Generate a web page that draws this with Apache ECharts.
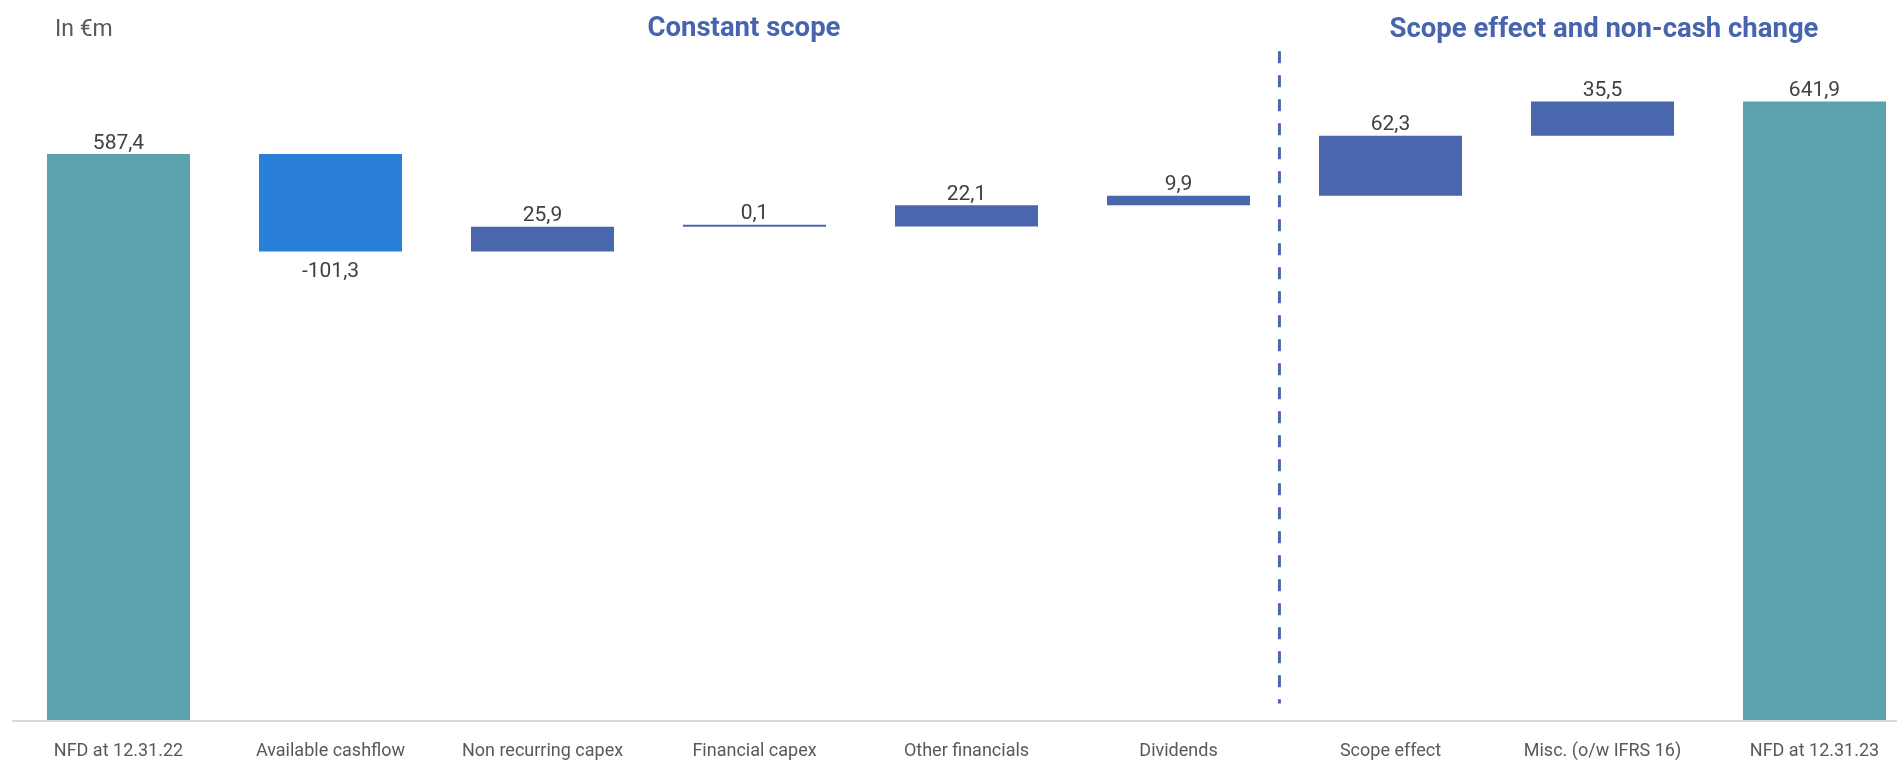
<!DOCTYPE html>
<html>
<head>
<meta charset="utf-8">
<script src="https://cdn.jsdelivr.net/npm/echarts@6/dist/echarts.min.js"></script>
<style>
html,body{margin:0;padding:0;background:#fff;}
#c{width:1897px;height:760px;}
</style>
</head>
<body>
<div id="c"></div>
<script>
const categories = ['NFD at 12.31.22','Available cashflow','Non recurring capex','Financial capex','Other financials','Dividends','Scope effect','Misc. (o/w IFRS 16)','NFD at 12.31.23'];
const values = [587.4, -101.3, 25.9, 0.1, 22.1, 9.9, 62.3, 35.5, 641.9];
const isTotal = [true, false, false, false, false, false, false, false, true];
const sectionTitles = ['Constant scope', 'Scope effect and non-cash change'];
const unitLabel = 'In €m';

const COLOR_TOTAL = '#5ca3ad';
const COLOR_NEG = '#2a80d8';
const COLOR_POS = '#4a66ad';
const FONT = 'Roboto';

// waterfall build
const base = [], height = [], colors = [];
let run = 0;
values.forEach((v, i) => {
  if (isTotal[i]) {
    base.push(0); height.push(v); colors.push(COLOR_TOTAL); run = v;
  } else if (v >= 0) {
    base.push(run); height.push(v); colors.push(COLOR_POS); run += v;
  } else {
    base.push(run + v); height.push(-v); colors.push(COLOR_NEG); run += v;
  }
});
const fmt = v => v.toFixed(1).replace('.', ',');

const chart = echarts.init(document.getElementById('c'), null, {renderer: 'canvas'});
chart.setOption({
  animation: false,
  grid: {left: 118.5, right: 82.5, top: 45.5, bottom: 40},
  xAxis: {
    type: 'category',
    data: categories,
    boundaryGap: false,
    axisLine: {show: false},
    axisTick: {show: false},
    axisLabel: {color: '#595959', fontFamily: FONT, fontSize: 18, margin: 22, interval: 0}
  },
  yAxis: {
    type: 'value', min: 0, max: 700,
    show: false, splitLine: {show: false}
  },
  series: [
    {
      type: 'bar', stack: 'w', data: base, barWidth: 143,
      itemStyle: {color: 'transparent'}, silent: true, clip: false
    },
    {
      type: 'bar', stack: 'w', barWidth: 143, barMinHeight: 2, clip: false,
      data: height.map((h, i) => ({
        value: h,
        itemStyle: {color: colors[i]},
        label: {
          show: true,
          position: values[i] < 0 ? 'bottom' : 'top',
          distance: values[i] < 0 ? 10 : 0,
          formatter: () => fmt(values[i]),
          color: '#404040', fontFamily: FONT, fontSize: 21
        }
      }))
    }
  ]
});

// dashed separator between sections, positioned via the axis scale
const pDiv = chart.convertToPixel({gridIndex: 0}, [5, 0]);
const pScope = chart.convertToPixel({gridIndex: 0}, [6, 0]);
const sepX = pDiv[0] + 0.476 * (pScope[0] - pDiv[0]);
const yTop = chart.convertToPixel({gridIndex: 0}, [0, 694])[1];
const yBot = chart.convertToPixel({gridIndex: 0}, [0, 17])[1];
const yZero = chart.convertToPixel({gridIndex: 0}, [0, 0])[1];

chart.setOption({
  graphic: [
    {type: 'line', shape: {x1: 12, y1: yZero + 1, x2: 1897, y2: yZero + 1},
     style: {stroke: '#d9d9d9', lineWidth: 2}, silent: true, z: -1},
    {type: 'line', shape: {x1: sepX, y1: yTop, x2: sepX, y2: yBot},
     style: {stroke: COLOR_POS, lineWidth: 3, lineDash: [12, 12]}, silent: true},
    {type: 'text', left: 55, top: 19,
     style: {text: unitLabel, fill: '#595959', font: '23px ' + FONT}},
    {type: 'text', x: 744, y: 29,
     style: {text: sectionTitles[0], fill: '#4764ae', font: 'bold 27.5px ' + FONT, textAlign: 'center', textVerticalAlign: 'middle'}},
    {type: 'text', x: 1604, y: 30,
     style: {text: sectionTitles[1], fill: '#4764ae', font: 'bold 27.5px ' + FONT, textAlign: 'center', textVerticalAlign: 'middle'}}
  ]
});
</script>
</body>
</html>
